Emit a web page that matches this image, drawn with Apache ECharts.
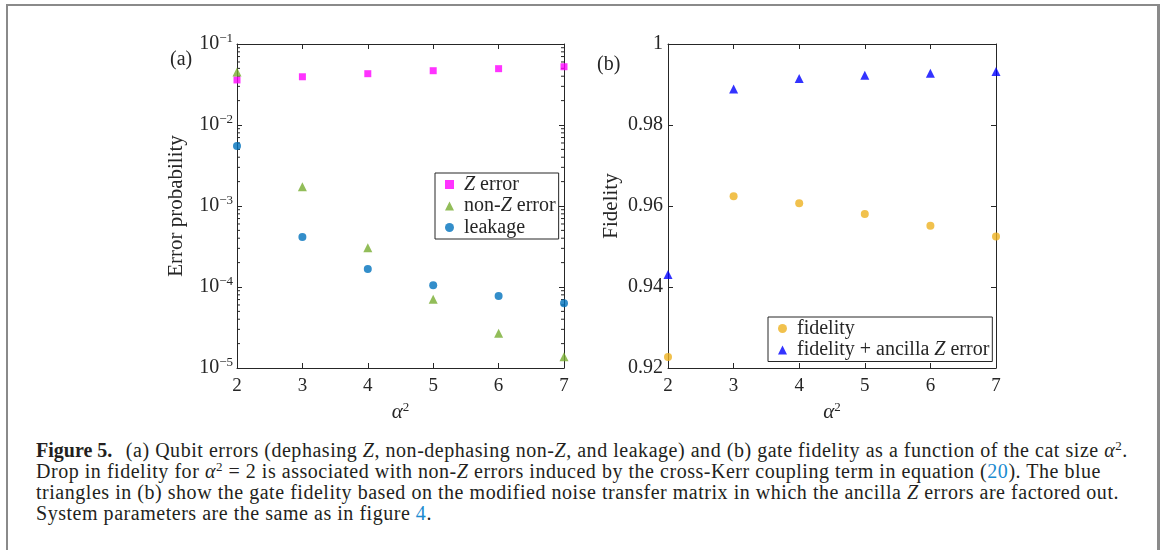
<!DOCTYPE html>
<html>
<head>
<meta charset="utf-8">
<title>Figure 5</title>
<script src="https://cdn.jsdelivr.net/npm/echarts@6/dist/echarts.min.js"></script>
<style>
  html, body { margin: 0; padding: 0; background: #fff; }
  body { width: 1165px; height: 550px; position: relative; overflow: hidden; }
  #frame { position: absolute; left: 6px; top: 4px; width: 1154px; height: 620px;
           border: 2px solid #8a8a8a; border-right-width: 3px; box-sizing: border-box; }
  #chart { position: absolute; left: 0; top: 0; width: 1165px; height: 432px; }
  #caption { position: absolute; left: 36px; top: 440px; font-family: 'Liberation Serif', serif;
             font-size: 20px; letter-spacing: 0.53px; line-height: 21px; color: #231f20; white-space: nowrap; }
  #caption b { font-weight: bold; letter-spacing: 0; margin-right: 8px; }
  #caption i { font-style: italic; }
  #caption .ref { color: #1b8bd0; }
  #caption sup { font-size: 13px; line-height: 0; vertical-align: 7px; }
</style>
</head>
<body>
<div id="frame"></div>
<div id="chart"></div>
<div id="caption">
  <b>Figure 5.</b> (a) Qubit errors (dephasing <i>Z</i>, non-dephasing non-<i>Z</i>, and leakage) and (b) gate fidelity as a function of the cat size <i>α</i><sup>2</sup>.<br>
  Drop in fidelity for <i>α</i><sup>2</sup> = 2 is associated with non-<i>Z</i> errors induced by the cross-Kerr coupling term in equation (<span class="ref">20</span>). The blue<br>
  triangles in (b) show the gate fidelity based on the modified noise transfer matrix in which the ancilla <i>Z</i> errors are factored out.<br>
  System parameters are the same as in figure <span class="ref">4</span>.
</div>
<script>
// cat size alpha^2 on the x axis of both panels
var alpha2 = [2, 3, 4, 5, 6, 7];

// panel (a): error probabilities (log scale)
var zError = [0.036, 0.0394, 0.043, 0.0468, 0.0496, 0.0524];
var nonZError = [0.045, 0.00173, 3.05e-4, 7.05e-5, 2.68e-5, 1.38e-5];
var leakage = [5.5e-3, 4.14e-4, 1.67e-4, 1.05e-4, 7.75e-5, 6.3e-5];

// panel (b): gate fidelity
var fidelity = [0.9227, 0.9624, 0.9607, 0.958, 0.9551, 0.9525];
var fidelityAncillaZ = [0.9431, 0.9889, 0.9915, 0.9923, 0.9928, 0.9932];

// tick labels
var logExponents = ['−5', '−4', '−3', '−2', '−1'];
var fidelityTicks = ['0.92', '0.94', '0.96', '0.98', '1'];

// log minor ticks 2..9 in every decade (matlab style)
var minorTicks = [];
[1e-5, 1e-4, 1e-3, 1e-2].forEach(function (d) {
  [2, 3, 4, 5, 6, 7, 8, 9].forEach(function (m) { minorTicks.push([2, m * d]); });
});

var serif = "'Liberation Serif', 'DejaVu Serif', serif";
var ink = '#262626';

function pairs(ys) {
  return alpha2.map(function (x, i) { return [x, ys[i]]; });
}

// bottom + top x axes, ticks inside, box style
function xAxes(grid) {
  var base = {
    type: 'value', gridIndex: grid, min: 2, max: 7, interval: 1,
    axisLine: { show: true, onZero: false, lineStyle: { color: ink, width: 1 } },
    axisTick: { show: true, inside: true, length: 5, lineStyle: { color: ink } },
    splitLine: { show: false }
  };
  return [
    Object.assign({}, base, {
      position: 'bottom',
      name: '{a|α}{s|2}', nameLocation: 'middle', nameGap: 30,
      nameTextStyle: {
        rich: {
          a: { fontFamily: serif, fontStyle: 'italic', fontSize: 21, color: ink, lineHeight: 24 },
          s: { fontFamily: serif, fontSize: 13, color: ink, verticalAlign: 'top', lineHeight: 24 }
        }
      },
      axisLabel: { margin: 9, fontFamily: serif, fontSize: 19, color: ink }
    }),
    Object.assign({}, base, { position: 'top', axisLabel: { show: false } })
  ];
}

function legendBox(names, left, top) {
  return {
    data: names,
    orient: 'vertical', left: left, top: top,
    padding: [1, 3, 1, 10], itemGap: 0.5, itemWidth: 9, itemHeight: 9,
    backgroundColor: '#fff', borderColor: ink, borderWidth: 1, borderRadius: 0,
    formatter: function (n) { return n.replace('Z', '{i|Z}'); },
    textStyle: {
      fontFamily: serif, fontSize: 20, color: ink, lineHeight: 21, padding: [0, 0, 0, 5],
      rich: { i: { fontFamily: serif, fontStyle: 'italic', fontSize: 20, color: ink, lineHeight: 21 } }
    }
  };
}

var chart = echarts.init(document.getElementById('chart'));

var option = {
  animation: false,
  title: [
    { text: '(a)', left: 165, top: 45, textStyle: { fontFamily: serif, fontSize: 20, fontWeight: 'normal', color: ink } },
    { text: '(b)', left: 592, top: 50, textStyle: { fontFamily: serif, fontSize: 20, fontWeight: 'normal', color: ink } }
  ],
  grid: [
    { left: 237, top: 44, width: 327, height: 324 },
    { left: 668, top: 44, width: 328, height: 324 }
  ],
  xAxis: xAxes(0).concat(xAxes(1)),
  yAxis: [
    {
      type: 'log', gridIndex: 0, logBase: 10, min: 1e-5, max: 1e-1, position: 'left',
      name: 'Error probability', nameLocation: 'middle', nameGap: 50,
      nameTextStyle: { fontFamily: serif, fontSize: 21, color: ink },
      axisLine: { show: true, lineStyle: { color: ink } },
      axisTick: { inside: true, length: 5, lineStyle: { color: ink } },
      splitLine: { show: false },
      axisLabel: {
        margin: 4, fontFamily: serif, fontSize: 20, color: ink, lineHeight: 24,
        formatter: function (v) {
          var k = Math.round(Math.log(v) / Math.LN10) + 5;
          return '10{s|' + logExponents[k] + '}';
        },
        rich: { s: { fontFamily: serif, fontSize: 13, color: ink, verticalAlign: 'top', lineHeight: 24 } }
      }
    },
    {
      type: 'log', gridIndex: 0, logBase: 10, min: 1e-5, max: 1e-1, position: 'right',
      axisLine: { show: true, lineStyle: { color: ink } },
      axisTick: { inside: true, length: 5, lineStyle: { color: ink } },
      splitLine: { show: false }, axisLabel: { show: false }
    },
    {
      type: 'value', gridIndex: 1, min: 0.92, max: 1, interval: 0.02, position: 'left',
      name: 'Fidelity', nameLocation: 'middle', nameGap: 46,
      nameTextStyle: { fontFamily: serif, fontSize: 21, color: ink },
      axisLine: { show: true, lineStyle: { color: ink } },
      axisTick: { inside: true, length: 5, lineStyle: { color: ink } },
      splitLine: { show: false },
      axisLabel: {
        margin: 5, fontFamily: serif, fontSize: 20, color: ink,
        formatter: function (v) { return fidelityTicks[Math.round((v - 0.92) / 0.02)]; }
      }
    },
    {
      type: 'value', gridIndex: 1, min: 0.92, max: 1, interval: 0.02, position: 'right',
      axisLine: { show: true, lineStyle: { color: ink } },
      axisTick: { inside: true, length: 5, lineStyle: { color: ink } },
      splitLine: { show: false }, axisLabel: { show: false }
    }
  ],
  legend: [
    legendBox(['Z error', 'non-Z error', 'leakage'], 435, 173),
    legendBox(['fidelity', 'fidelity + ancilla Z error'], 768, 317)
  ],
  series: [
    {
      name: 'minor ticks', type: 'custom', xAxisIndex: 0, yAxisIndex: 0, silent: true,
      data: minorTicks, encode: { x: 0, y: 1 }, clip: false,
      renderItem: function (params, api) {
        var l = api.coord([2, api.value(1)]);
        var r = api.coord([7, api.value(1)]);
        var st = { stroke: ink, lineWidth: 1 };
        return {
          type: 'group', children: [
            { type: 'line', shape: { x1: l[0], y1: l[1], x2: l[0] + 3, y2: l[1] }, style: st },
            { type: 'line', shape: { x1: r[0] - 3, y1: r[1], x2: r[0], y2: r[1] }, style: st }
          ]
        };
      }
    },
    {
      name: 'Z error', type: 'scatter', xAxisIndex: 0, yAxisIndex: 0, clip: false,
      symbol: 'rect', symbolSize: 7, itemStyle: { color: '#ff00ff' }, data: pairs(zError)
    },
    {
      name: 'non-Z error', type: 'scatter', xAxisIndex: 0, yAxisIndex: 0, clip: false,
      symbol: 'triangle', symbolSize: 9, itemStyle: { color: '#77ac30' }, data: pairs(nonZError)
    },
    {
      name: 'leakage', type: 'scatter', xAxisIndex: 0, yAxisIndex: 0, clip: false,
      symbol: 'circle', symbolSize: 8, itemStyle: { color: '#0072bd' }, data: pairs(leakage)
    },
    {
      name: 'fidelity', type: 'scatter', xAxisIndex: 2, yAxisIndex: 2, clip: false,
      symbol: 'circle', symbolSize: 8, itemStyle: { color: '#edb120' }, data: pairs(fidelity)
    },
    {
      name: 'fidelity + ancilla Z error', type: 'scatter', xAxisIndex: 2, yAxisIndex: 2, clip: false,
      symbol: 'triangle', symbolSize: 9, itemStyle: { color: '#0000ff' }, data: pairs(fidelityAncillaZ)
    }
  ]
};

chart.setOption(option);
</script>
</body>
</html>
